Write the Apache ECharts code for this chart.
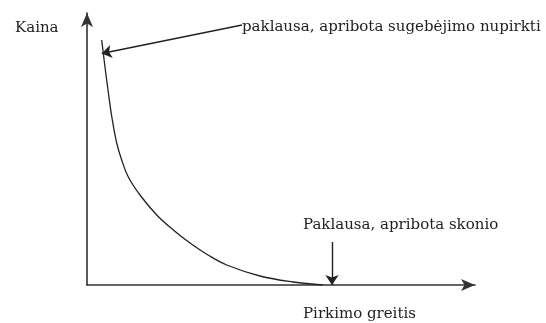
<!DOCTYPE html>
<html>
<head>
<meta charset="utf-8">
<script src="https://cdn.jsdelivr.net/npm/echarts@6/dist/echarts.min.js"></script>
<style>
  html, body { margin: 0; padding: 0; background: #fff; }
  #chart { width: 546px; height: 323px; }
</style>
</head>
<body>
<div id="chart"></div>
<script>
// demand curve: purchase speed vs price (units)
const speed = [14.7, 17.5, 21, 25, 29.7, 34.7, 41.3, 53, 69.7, 86.3, 103, 121, 139.7, 173, 206, 236]
const price = [245, 222, 195, 167, 142, 125, 108, 90, 70, 55, 42, 30, 20, 9, 3, 0]

// annotation arrows [from, to]
const arrowAbility = [[155, 260], [14.7, 231.5]]
const arrowTaste = [[245, 43], [245, 0]]

const labelAbility = 'paklausa, apribota sugebėjimo nupirkti'
const labelTaste = 'Paklausa, apribota skonio'
const yName = 'Kaina'
const xName = 'Pirkimo greitis'

const chart = echarts.init(document.getElementById('chart'))

const axisCommon = {
  type: 'value',
  min: 0,
  splitLine: { show: false },
  axisTick: { show: false },
  axisLabel: { show: false },
  axisLine: {
    show: true,
    onZero: false,
    symbol: ['none', 'arrow'],
    symbolSize: [9, 14],
    lineStyle: { color: '#333', width: 1.6 }
  }
}

const textStyle = { fontFamily: 'DejaVu Serif', fontSize: 15, fill: '#222' }

const option = {
  animation: false,
  backgroundColor: '#fff',
  grid: { left: 87, right: 71, top: 13, bottom: 38 },
  xAxis: Object.assign({}, axisCommon, { max: 388 }),
  yAxis: Object.assign({}, axisCommon, { max: 272 }),
  series: [
    {
      type: 'line',
      data: speed.map((x, i) => [x, price[i]]),
      smooth: 0.4,
      showSymbol: false,
      lineStyle: { color: '#222', width: 1.3 }
    },
    {
      type: 'lines',
      coordinateSystem: 'cartesian2d',
      symbol: ['none', 'arrow'],
      symbolSize: 10,
      lineStyle: { color: '#222', width: 1.4, opacity: 1 },
      data: [
        { coords: arrowAbility },
        { coords: arrowTaste }
      ]
    }
  ],
  graphic: [
    { type: 'text', left: 15, top: 21, style: Object.assign({ text: yName }, textStyle) },
    { type: 'text', left: 242, top: 20, style: Object.assign({ text: labelAbility }, textStyle) },
    { type: 'text', left: 303, top: 218, style: Object.assign({ text: labelTaste }, textStyle) },
    { type: 'text', left: 303, top: 307, style: Object.assign({ text: xName }, textStyle) }
  ]
}

chart.setOption(option)
</script>
</body>
</html>
